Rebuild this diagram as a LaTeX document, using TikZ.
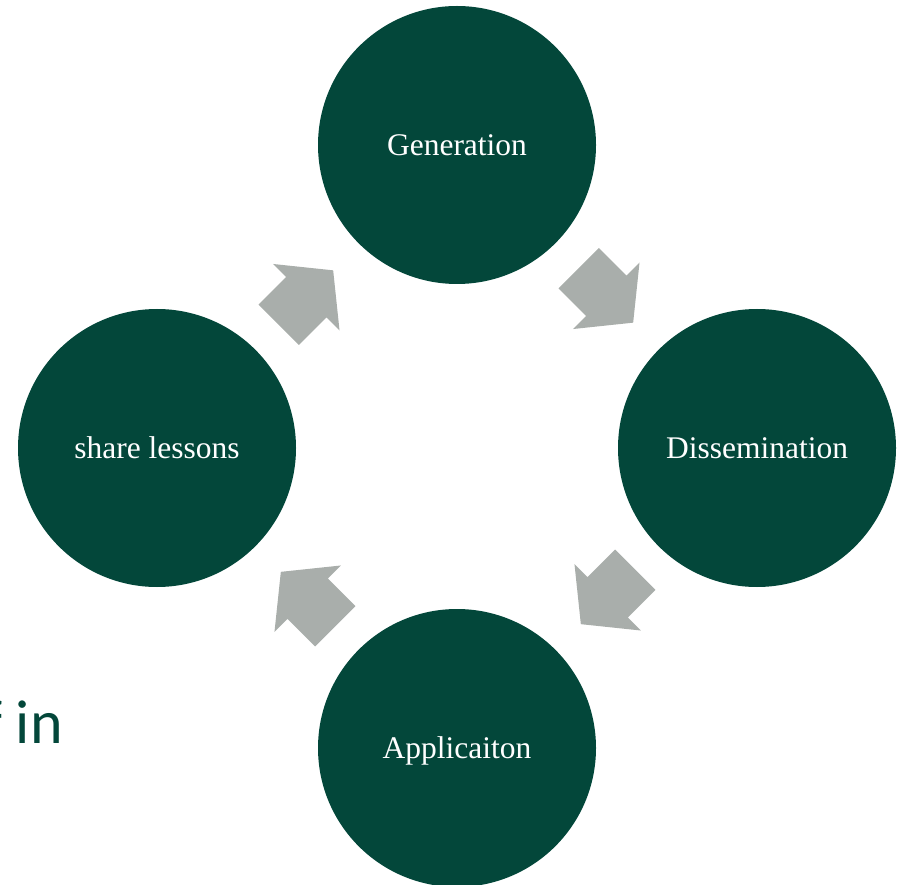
\documentclass[tikz,border=0pt]{standalone}
\usepackage{fontspec}
\setmainfont{Liberation Serif}
\newfontfamily\slidefont{Carlito}
\usetikzlibrary{calc}
\definecolor{cyclegreen}{RGB}{3,71,58}
\definecolor{arrowgrey}{RGB}{169,174,171}

\begin{document}
\begin{tikzpicture}[x=1pt,y=-1pt,
    stage/.style={circle,fill=cyclegreen,minimum size=278pt,inner sep=0pt,text=white,
      text depth=0pt,font=\fontsize{31.5}{36}\selectfont},
    blockarrow/.style={fill=arrowgrey}]
    \clip (0,0) rectangle (897,885);
    % slide text peeking out behind the cycle
    \node[anchor=base east,inner sep=0pt,text=cyclegreen,
      font=\slidefont\fontsize{62}{70}\selectfont] (behind) at (63,743) {f in};
    \node[stage] (gen) at (457,145) {Generation};
    \node[stage] (dis) at (757,448) {Dissemination};
    \node[stage] (app) at (457,748) {Applicaiton};
    \node[stage] (share) at (157,448) {share lessons};
    % block arrows half way between the stages
    \foreach \from/\to/\ang in {gen/dis/-45, dis/app/-135, app/share/135, share/gen/45}{
      \begin{scope}[shift={($(\from)!0.5!(\to)$)}, rotate=\ang]
        \fill[blockarrow] (-40,28.5) -- (-1,28.5) -- (-1,47) -- (37,0)
          -- (-1,-47) -- (-1,-28.5) -- (-40,-28.5) -- cycle;
      \end{scope}
    }
  \end{tikzpicture}
\end{document}
